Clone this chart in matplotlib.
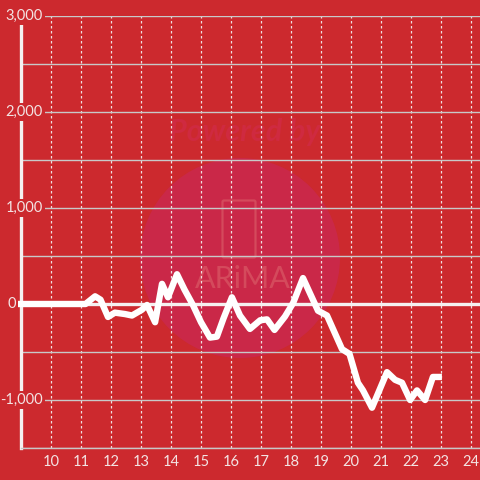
import matplotlib.pyplot as plt
from matplotlib.patches import Circle, FancyBboxPatch

# data (hour of day, value)
hours = [8.87, 11.0, 11.15, 11.47, 11.65, 11.9, 12.13, 12.47, 12.7, 13.03, 13.2,
         13.47, 13.7, 13.9, 14.2, 14.45, 14.73, 15.0, 15.3, 15.53, 15.75, 16.03,
         16.3, 16.63, 16.97, 17.2, 17.45, 17.8, 18.07, 18.4, 18.9, 19.2, 19.7,
         19.95, 20.23, 20.4, 20.7, 21.2, 21.47, 21.7, 21.97, 22.2, 22.47, 22.73,
         23.03]
values = [0, 0, 0, 80, 45, -135, -90, -105, -120, -60, -10,
          -190, 210, 70, 310, 150, -10, -190, -350, -340, -150, 70,
          -120, -260, -170, -160, -270, -130, 10, 270, -70, -120, -470,
          -520, -820, -900, -1080, -710, -790, -820, -1000, -900, -1000, -760,
          -760]

x_ticks = list(range(10, 25))
y_label_vals = [3000, 2000, 1000, 0, -1000]
y_labels = ['3,000', '2,000', '1,000', '0', '-1,000']
y_label_right = [43, 43, 43, 16, 43]  # right edge of each label, px

bg = '#cc292e'
txt = '#f3e3e3'

fig = plt.figure(figsize=(4.8, 4.8), dpi=100, facecolor=bg)
ax = fig.add_axes([21 / 480, 32 / 480, 459 / 480, 432 / 480])
ax.set_facecolor('none')

# watermark, behind the grid
ax.add_patch(Circle((240, 480 - 258), 100, transform=None, facecolor='#ca2848',
                    edgecolor='none', zorder=0.1, clip_on=False))
ax.text(245 / 480, 1 - 132 / 480, 'Powered by', transform=fig.transFigure,
        color='#cf2a40', fontsize=22, fontweight='bold', fontstyle='italic',
        ha='center', va='center', zorder=0.2, family='Lato')
ax.add_patch(FancyBboxPatch((224, 480 - 256), 30, 54, boxstyle='round,pad=1.5',
                            transform=None, facecolor='none', edgecolor='#d44a5c',
                            lw=1.6, zorder=0.2, clip_on=False))
ax.text(243 / 480, 1 - 279 / 480, 'ARiMA', transform=fig.transFigure,
        color='#d44a5c', fontsize=22, ha='center', va='center', zorder=0.2,
        family='Lato')

ax.set_xlim(9, 24.3)
ax.set_ylim(-1500, 3000)

ax.set_yticks(range(-1500, 3001, 500))
ax.set_yticklabels([])
ax.set_xticks(x_ticks)
ax.set_xticklabels([str(t) for t in x_ticks], color=txt, fontsize=10.5, family='Lato')
ax.tick_params(length=0)
ax.tick_params(axis='x', pad=5)

ax.grid(axis='y', color='#c8c8c8', lw=1, ls='-')
ax.grid(axis='x', color='#f0e0e0', lw=0.9, ls=(0, (2, 2)))
ax.set_axisbelow(True)

for s in ['top', 'right']:
    ax.spines[s].set_visible(False)
ax.spines['left'].set_color('#f5f0f0')
ax.spines['left'].set_linewidth(2.4)
ax.spines['bottom'].set_color('#c8c8c8')
ax.spines['bottom'].set_linewidth(1)

ax.axhline(0, color='#f5f0f0', lw=2.4, zorder=2)

ax.plot(hours, values, color='white', lw=4.6, solid_joinstyle='round',
        solid_capstyle='butt', zorder=3, clip_on=False)

for v, lab, rx in zip(y_label_vals, y_labels, y_label_right):
    ax.text(9 + (rx - 21) / 30, v, lab, ha='right', va='center', color=txt,
            fontsize=10.5, family='Lato', zorder=4, clip_on=False,
            bbox=dict(facecolor=bg, edgecolor='none', pad=1.5))

fig.savefig('out.png', dpi=100, facecolor=bg)
